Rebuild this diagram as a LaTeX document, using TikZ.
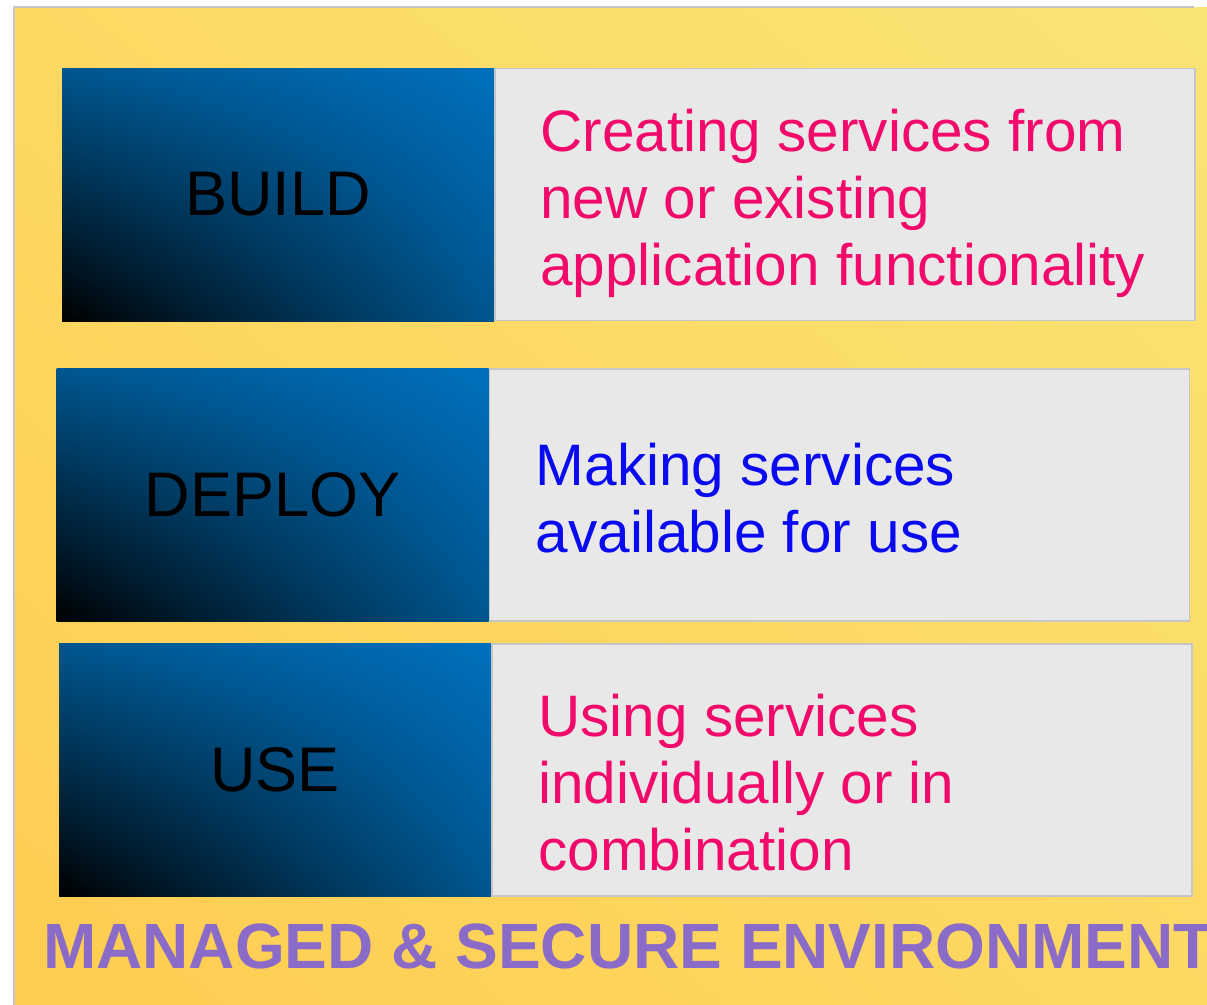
\documentclass[tikz,border=0pt]{standalone}
\usepackage{fontspec}
\setmainfont{Liberation Sans}
\usetikzlibrary{positioning, shadings}

\definecolor{stageblue}{HTML}{0070BE}
\definecolor{stagemid}{HTML}{00568F}
\definecolor{boxgray}{HTML}{E8E8E8}
\definecolor{boxline}{HTML}{C6C6C6}
\definecolor{pinktext}{HTML}{F20A6B}
\definecolor{bluetext}{HTML}{0A0AF0}
\definecolor{envtext}{HTML}{8A6CC8}
\definecolor{envlow}{HTML}{FECC50}
\definecolor{envmid}{HTML}{FCD963}
\definecolor{envhigh}{HTML}{FAE476}

\begin{document}
\begin{tikzpicture}[x=1pt, y=-1pt,
		stage/.style={rectangle, inner sep=0pt, minimum width=432pt, minimum height=253pt, lower left=black, upper left=stagemid, lower right=stagemid, upper right=stageblue, font=\fontsize{63}{70}\selectfont},
		info/.style={rectangle, draw=boxline, line width=1.5pt, fill=boxgray, inner sep=0pt, minimum width=700pt, minimum height=252pt},
		says/.style={align=left, inner sep=0pt, font=\fontsize{58.5}{67}\selectfont}]
	\clip (0,0) rectangle (1207,1004);
	\fill[white] (0,0) rectangle (1207,1004);
	
	% managed environment
	\shade[lower left=envlow, upper left=envmid, lower right=envmid, upper right=envhigh] (14,7) rectangle (1230,1030);
	\draw[boxline, line width=2pt] (14,1030) -- (14,7) -- (1194,7);
	
	\node[stage] (build) at (278,194.5) {BUILD};
	\node[info, right=0pt of build] (buildbox) {};
	\node[says, text=pinktext, right=46pt of build, yshift=-9pt] (buildtext) {Creating services from\\new or existing\\application functionality};
	
	\node[stage] (deploy) at (272.5,495) {DEPLOY};
	\node[info, right=0pt of deploy] (deploybox) {};
	\node[says, text=bluetext, right=47pt of deploy, yshift=-3pt] (deploytext) {Making services\\available for use};
	
	\node[stage] (use) at (275,770) {USE};
	\node[info, right=0pt of use] (usebox) {};
	\node[says, text=pinktext, right=47pt of use, yshift=-13pt] (usetext) {Using services\\individually or in\\combination};
	
	\node[anchor=west, inner sep=0pt, text=envtext, font=\fontsize{64}{70}\selectfont\bfseries] (env) at (43,946) {MANAGED \& SECURE ENVIRONMENT};
\end{tikzpicture}
\end{document}
